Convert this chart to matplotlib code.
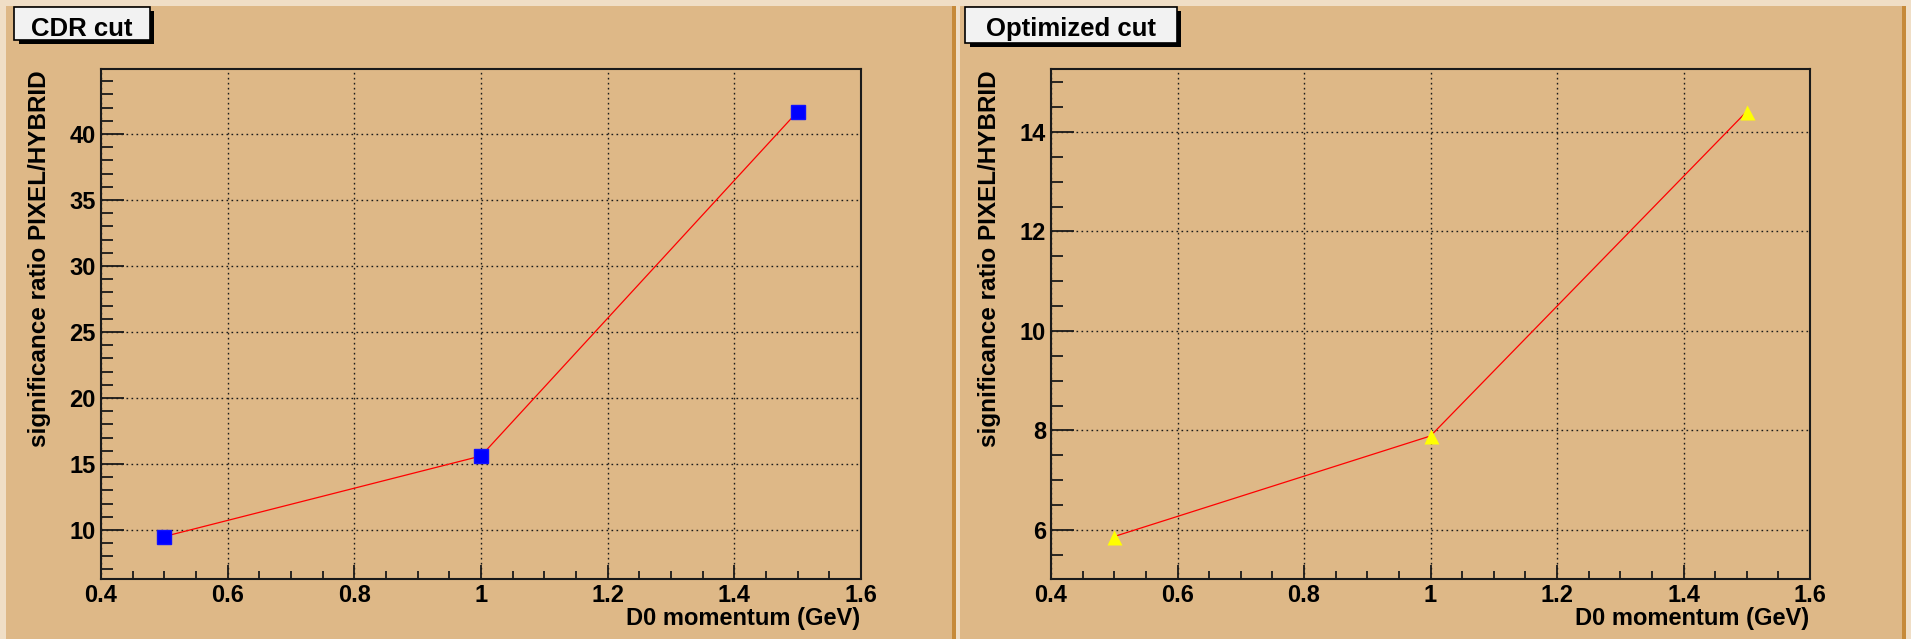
import matplotlib
matplotlib.use("Agg")
import matplotlib.pyplot as plt
from matplotlib.patches import Rectangle
from matplotlib.ticker import MultipleLocator, FuncFormatter

# ---------------- data ----------------
momentum = [0.5, 1.0, 1.5]
cdr_ratio = [9.5, 15.6, 41.7]
opt_ratio = [5.87, 7.89, 14.41]
titles = ["CDR cut", "Optimized cut"]
xlabel = "D0 momentum (GeV)"
ylabel = "significance ratio PIXEL/HYBRID"

# ---------------- style ----------------
W, H = 1911, 639
CANVAS = "#F0DEC6"
PAD = "#DEB887"
PAD_DARK = "#C68A3A"
FONT = "Liberation Sans"

plt.rcParams["font.family"] = [FONT, "DejaVu Sans"]
plt.rcParams["font.weight"] = "bold"

fig = plt.figure(figsize=(W / 100, H / 100), dpi=100, facecolor=CANVAS)


def fx(x):
    return x / W


def fy(y):
    return 1 - y / H


def rect_px(x0, y0, x1, y1, **kw):
    r = Rectangle((fx(x0), fy(y1)), fx(x1) - fx(x0), fy(y0) - fy(y1),
                  transform=fig.transFigure, **kw)
    fig.add_artist(r)
    return r


# pads
for (px0, px1) in [(6, 956), (960, 1906)]:
    rect_px(px0, 6, px1, H + 10, facecolor=PAD_DARK, edgecolor="none", zorder=-3)
    rect_px(px0, 6, px1 - 4, H + 10, facecolor=PAD, edgecolor="none", zorder=-2)

# axes frames (pixels)
frames = [(101, 861, 69, 579), (1051, 1810, 69, 579)]
ylims = [(6.28, 44.92), (5.016, 15.264)]
ymaj = [5, 2]
ymin_step = [1, 0.5]
series = [cdr_ratio, opt_ratio]
markers = [dict(marker="s", color="#0000FF", mec="#1010FF", ms=10.5),
           dict(marker="^", color="#FFFF00", mec="none", ms=10.8)]
title_boxes = [(14, 7, 150, 40), (965, 7, 1177, 43)]

for i in range(2):
    x0, x1, yt, yb = frames[i]
    ax = fig.add_axes([fx(x0), fy(yb), fx(x1) - fx(x0), fy(yt) - fy(yb)])
    ax.set_facecolor("none")
    ax.set_xlim(0.4, 1.6)
    ax.set_ylim(*ylims[i])

    ax.plot(momentum, series[i], color="#FF0000", lw=0.9, zorder=3)
    ax.plot(momentum, series[i], ls="none", zorder=4, **markers[i])

    ax.xaxis.set_major_locator(MultipleLocator(0.2))
    ax.xaxis.set_minor_locator(MultipleLocator(0.05))
    ax.xaxis.set_major_formatter(FuncFormatter(lambda v, p: "%g" % round(v, 3)))
    ax.yaxis.set_major_locator(MultipleLocator(ymaj[i]))
    ax.yaxis.set_minor_locator(MultipleLocator(ymin_step[i]))
    ax.yaxis.set_major_formatter(FuncFormatter(lambda v, p: "%g" % round(v, 3)))

    ax.grid(True, which="major", color="#1a1a1a", lw=1.0,
            linestyle=(0, (1.2, 2.4)), zorder=1)
    ax.set_axisbelow(True)

    for s in ax.spines.values():
        s.set_color("#1a1a1a")
        s.set_linewidth(1.5)

    ax.tick_params(axis="both", which="both", direction="in", colors="#1a1a1a",
                   labelcolor="black", top=False, right=False)
    ax.tick_params(axis="y", which="major", length=16.5, width=1.3,
                   labelsize=17, pad=3.6)
    ax.tick_params(axis="y", which="minor", length=8.3, width=1.3)
    ax.tick_params(axis="x", which="major", length=10, width=1.3,
                   labelsize=17, pad=3.5)
    ax.tick_params(axis="x", which="minor", length=6, width=1.3)
    for lab in ax.get_xticklabels() + ax.get_yticklabels():
        lab.set_fontweight("bold")

    ax.set_xlabel(xlabel, fontsize=17, fontweight="bold", ha="right", va="baseline")
    ax.xaxis.set_label_coords(1 - 1.0 / (x1 - x0), (yb - 625) / (yb - yt))
    ax.set_ylabel(ylabel, fontsize=17.5, fontweight="bold", ha="right", va="baseline")
    ax.yaxis.set_label_coords(-55.0 / (x1 - x0), (yb - 70) / (yb - yt))

    # title box
    bx0, by0, bx1, by1 = title_boxes[i]
    rect_px(bx0 + 5, by0 + 4, bx1 + 4, by1 + 4, facecolor="black",
            edgecolor="none", zorder=5)
    rect_px(bx0, by0, bx1, by1, facecolor="#F2F2F2", edgecolor="black",
            lw=1.2, zorder=6)
    fig.text(fx((bx0 + bx1) / 2), fy(36), titles[i], fontsize=18.5,
             fontweight="bold", ha="center", va="baseline", zorder=7)

fig.savefig("out.png", dpi=100, facecolor=CANVAS)
